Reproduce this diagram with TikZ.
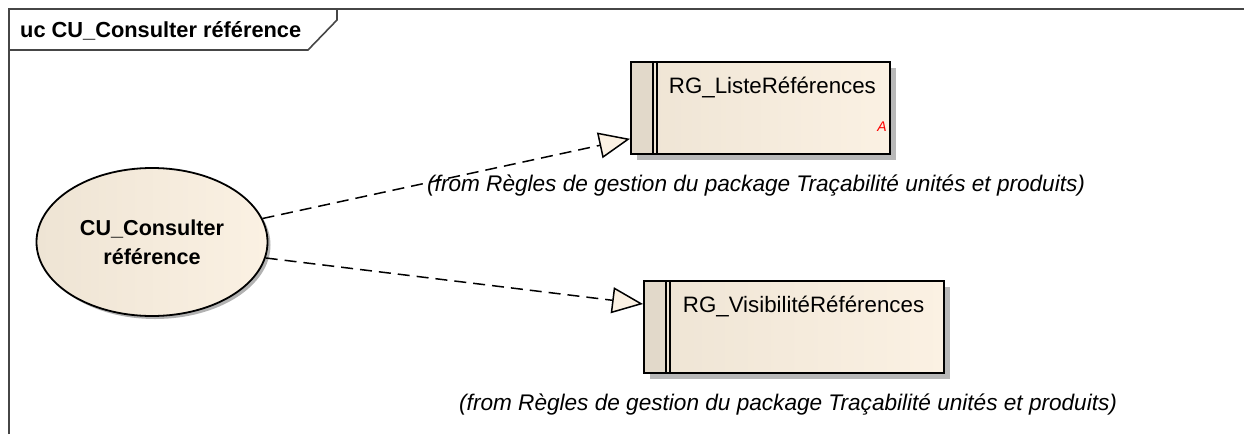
\documentclass[tikz,border=0pt]{standalone}
\usepackage{fontspec}
\setmainfont{Liberation Sans}
\usetikzlibrary{shapes.geometric, arrows.meta, positioning, shadows}
\definecolor{ucCream}{RGB}{251,241,227}
\definecolor{ucTan}{RGB}{238,228,212}
\definecolor{ucStrip}{RGB}{226,217,202}
\definecolor{ucFrame}{RGB}{70,70,70}

\begin{document}
\begin{tikzpicture}[x=1pt, y=-1pt,
    usecase/.style={ellipse, draw, line width=1.8pt, minimum width=231pt, minimum height=148pt, inner sep=0pt,
        left color=ucTan, right color=ucCream, drop shadow={shadow xshift=3pt, shadow yshift=-3pt, fill=black!30, opacity=1},
        align=center, font=\bfseries\fontsize{21.6}{29}\selectfont},
    rulebox/.style={draw, line width=1.8pt, text width=259pt, inner sep=0pt, text height=32pt, text depth=60pt, align=left,
        left color=ucTan, right color=ucCream, drop shadow={shadow xshift=6pt, shadow yshift=-6pt, fill=black!28, opacity=1},
        font=\fontsize{22.3}{26}\selectfont,
        path picture={\fill[ucStrip] (path picture bounding box.north west) rectangle ([xshift=22pt]path picture bounding box.south west);
            \draw[line width=1.2pt] ([xshift=22pt]path picture bounding box.north west) -- ([xshift=22pt]path picture bounding box.south west);
            \draw[line width=1.2pt] ([xshift=26pt]path picture bounding box.north west) -- ([xshift=26pt]path picture bounding box.south west);}},
    fromnote/.style={anchor=base west, inner sep=0pt, font=\itshape\fontsize{22.6}{26}\selectfont},
    dep/.style={dash pattern=on 12pt off 7pt, line width=1.5pt, -{Triangle[length=31pt, width=26pt, fill=ucCream, line width=1.5pt]}}]
    \useasboundingbox (0,0) rectangle (1244,434);
    % frame and tab
    \draw[ucFrame, line width=1.6pt] (9,434) -- (9,9) -- (1244,9);
    \draw[ucFrame, line width=1.6pt] (9,50) -- (308,50) -- (337,20) -- (337,9);
    \node[anchor=base west, inner sep=0pt, font=\bfseries\fontsize{21.8}{26}\selectfont] (title) at (20,37) {uc CU\_Consulter référence};
    % use case and rules
    \node[usecase] (uc) at (152,242) {CU\_Consulter\\référence};
    \node[rulebox, anchor=north west,
        label={[anchor=base east, inner sep=0pt, text=red, font=\itshape\fontsize{14}{16}\selectfont, xshift=-4pt, yshift=23pt]south east:A}]
        (liste) at (630,61) {\hspace*{38pt}RG\_ListeRéférences};
    \node[rulebox, anchor=north west, text width=300pt] (visi) at (643,280) {\hspace*{39pt}RG\_VisibilitéRéférences};
    \node[fromnote] (from1) at (427,191) {(from Règles de gestion du package Traçabilité unités et produits)};
    \node[fromnote] (from2) at (459,410) {(from Règles de gestion du package Traçabilité unités et produits)};
    % dependencies
    \draw[dep] (uc.12) -- ([yshift=16pt]liste.south west);
    \draw[dep] (uc.-8) -- ([yshift=-24pt]visi.north west);
\end{tikzpicture}
\end{document}
